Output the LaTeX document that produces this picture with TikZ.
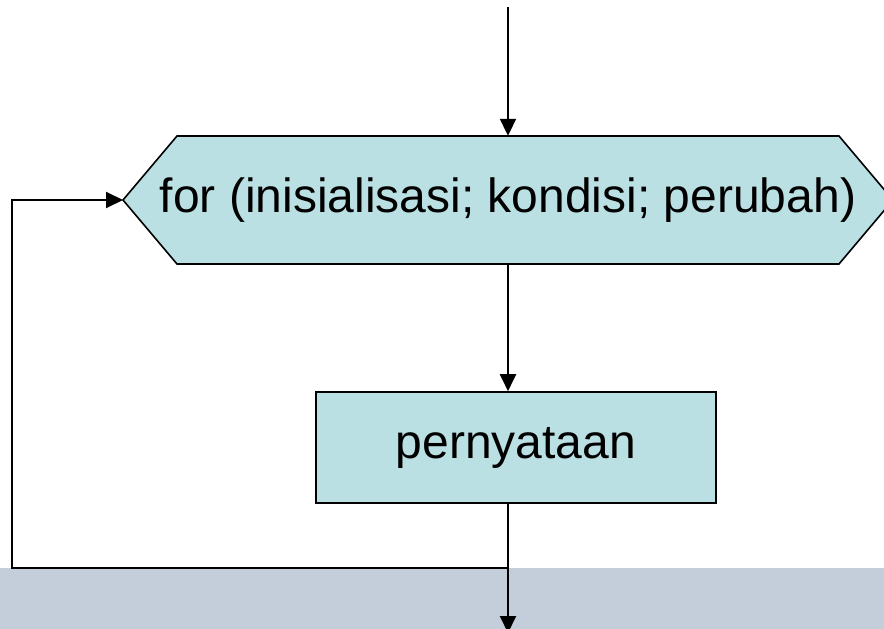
\documentclass[tikz,border=0pt]{standalone}
\usepackage{fontspec}
\setmainfont{Liberation Sans}
\usetikzlibrary{arrows.meta,backgrounds}
\definecolor{boxfill}{RGB}{187,224,227}
\definecolor{bandfill}{RGB}{195,206,218}
\tikzset{
  x=1pt,y=1pt,
  conn/.style={line width=2pt,-{Triangle[length=17pt,width=16pt]}},
  boxline/.style={line width=1.6pt,draw=black,fill=boxfill},
  bigtext/.style={font=\fontsize{48}{56}\selectfont,inner sep=0pt},
}
\begin{document}
\begin{tikzpicture}
\useasboundingbox (0,0) rectangle (884,-629);
\fill[bandfill] (0,-568) rectangle (884,-629);
% for node (text of the hexagon)
\node[bigtext,minimum height=128pt] (for) at (508,-200) {for (inisialisasi; kondisi; perubah)};
\coordinate (hNW) at ([xshift=-331pt,yshift=64pt]for.center);
\coordinate (hNE) at ([xshift=331pt,yshift=64pt]for.center);
\coordinate (hSW) at ([xshift=-331pt,yshift=-64pt]for.center);
\coordinate (hSE) at ([xshift=331pt,yshift=-64pt]for.center);
\coordinate (fortipW) at ([xshift=-385pt]for.center);
\coordinate (fortipE) at ([xshift=385pt]for.center);
\node[bigtext,boxline,minimum width=400pt,minimum height=111pt] (pern) at (516,-447.5) {pernyataan};
\begin{scope}[on background layer]
  \draw[boxline] (hNW) -- (hNE) -- (fortipE) -- (hSE) -- (hSW) -- (fortipW) -- cycle;
\end{scope}
\coordinate (start) at (508,-7);
\coordinate (finish) at (508,-633);
\coordinate (junc) at (508,-568);
\coordinate (lb) at (12,-568);
\coordinate (lt) at (12,-200);
\draw[conn] (start) -- (for.north);
\draw[conn] (for.south) -- (for.south |- pern.north);
\draw[conn] (for.south |- pern.south) -- (finish);
\draw[conn] (junc) -- (lb) -- (lt) -- (fortipW);
\end{tikzpicture}
\end{document}
